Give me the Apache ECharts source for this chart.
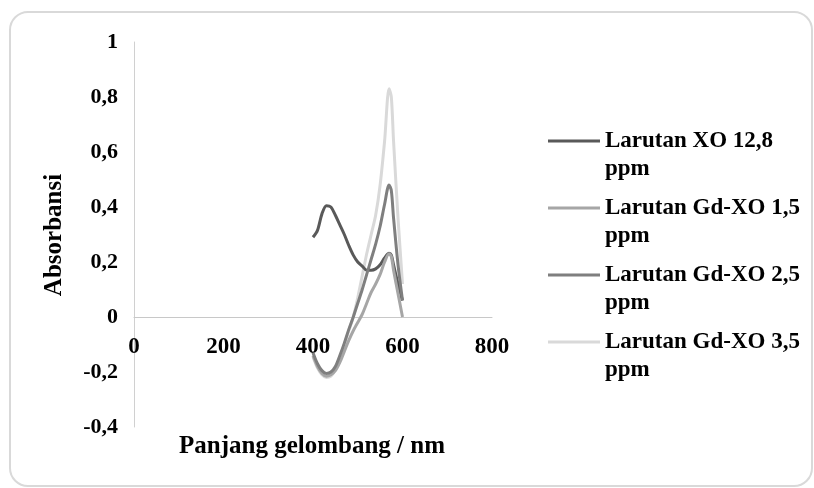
<!DOCTYPE html>
<html>
<head>
<meta charset="utf-8">
<script src="https://cdn.jsdelivr.net/npm/echarts@6/dist/echarts.min.js"></script>
<style>html,body{margin:0;padding:0;background:#fff}#c{width:814px;height:488px}</style>
</head>
<body>
<div id="c"></div>
<script>
const wavelengths = [400,410,420,430,440,450,460,470,480,490,500,510,520,530,540,550,560,570,575,580,590,600];
const xo128  = [0.29,0.315,0.375,0.405,0.40,0.37,0.335,0.30,0.26,0.225,0.20,0.185,0.17,0.17,0.175,0.19,0.215,0.232,0.225,0.19,0.12,0.06];
const gdxo15 = [-0.14,-0.18,-0.205,-0.215,-0.21,-0.195,-0.165,-0.125,-0.085,-0.05,-0.02,0.01,0.05,0.09,0.12,0.155,0.2,0.23,0.22,0.17,0.085,0.0];
const gdxo25 = [-0.13,-0.17,-0.195,-0.205,-0.2,-0.18,-0.14,-0.095,-0.045,0.0,0.05,0.1,0.155,0.21,0.265,0.33,0.41,0.48,0.46,0.36,0.19,0.06];
const gdxo35 = [-0.145,-0.185,-0.21,-0.22,-0.215,-0.19,-0.15,-0.1,-0.05,0.0,0.07,0.15,0.23,0.3,0.37,0.48,0.64,0.83,0.8,0.64,0.36,0.12];
const seriesNames = ['Larutan XO 12,8 ppm','Larutan Gd-XO 1,5 ppm','Larutan Gd-XO 2,5 ppm','Larutan Gd-XO 3,5 ppm'];
const seriesColors = ['#595959','#a6a6a6','#7f7f7f','#d9d9d9'];
const xTitle = 'Panjang gelombang / nm';
const yTitle = 'Absorbansi';

const FONT = 'Liberation Serif';
const allY = [xo128, gdxo15, gdxo25, gdxo35];
const chart = echarts.init(document.getElementById('c'));
function pairs(ys){ return wavelengths.map((w,i)=>[w, ys[i]]); }

chart.setOption({
  animation:false,
  backgroundColor:'#ffffff',
  grid:{left:134, right:322, top:42, bottom:61, containLabel:false},
  xAxis:{
    type:'value', min:0, max:800, interval:200,
    offset:-110,
    axisLine:{show:true, onZero:false, lineStyle:{color:'#c8c8c8', width:1}},
    axisTick:{show:false},
    splitLine:{show:false},
    axisLabel:{margin:19, color:'#000', fontFamily:FONT, fontWeight:'bold', fontSize:23,
      formatter:v=>String(v)}
  },
  yAxis:{
    type:'value', min:-0.4, max:1, interval:0.2,
    axisLine:{show:true, lineStyle:{color:'#d0d0d0', width:1}},
    axisTick:{show:false},
    splitLine:{show:false},
    axisLabel:{margin:16, color:'#000', fontFamily:FONT, fontWeight:'bold', fontSize:22,
      formatter:v=>String(Math.round(v*10)/10).replace('.',',')}
  },
  legend:{
    orient:'vertical', left:548, top:99, padding:0, itemGap:-17,
    itemWidth:52, itemHeight:3, icon:'rect',
    data:seriesNames,
    formatter:function(name){
      const i = name.lastIndexOf(' ');
      return '\n' + name.substring(0,i) + '\n' + name.substring(i+1);
    },
    textStyle:{color:'#000', fontFamily:FONT, fontWeight:'bold', fontSize:23, lineHeight:28}
  },
  graphic:[
    {type:'rect', shape:{x:10, y:12, width:802, height:474, r:18}, style:{fill:'none', stroke:'#d9d9d9', lineWidth:2}, silent:true, z:-10},
    {type:'text', x:55, y:235, rotation:Math.PI/2, style:{text:yTitle, fill:'#000', font:'bold 25px "Liberation Serif"', textAlign:'center', textVerticalAlign:'middle'}},
    {type:'text', x:312, y:447, style:{text:xTitle, fill:'#000', font:'bold 25px "Liberation Serif"', textAlign:'center', textVerticalAlign:'middle'}}
  ],
  series: seriesNames.map((n,i)=>({
    name:n, type:'line', smooth:0.3, symbol:'none',
    data:pairs(allY[i]),
    lineStyle:{color:seriesColors[i], width:3},
    itemStyle:{color:seriesColors[i]},
    z: i===3 ? 1 : 2+i
  }))
});
</script>
</body>
</html>
